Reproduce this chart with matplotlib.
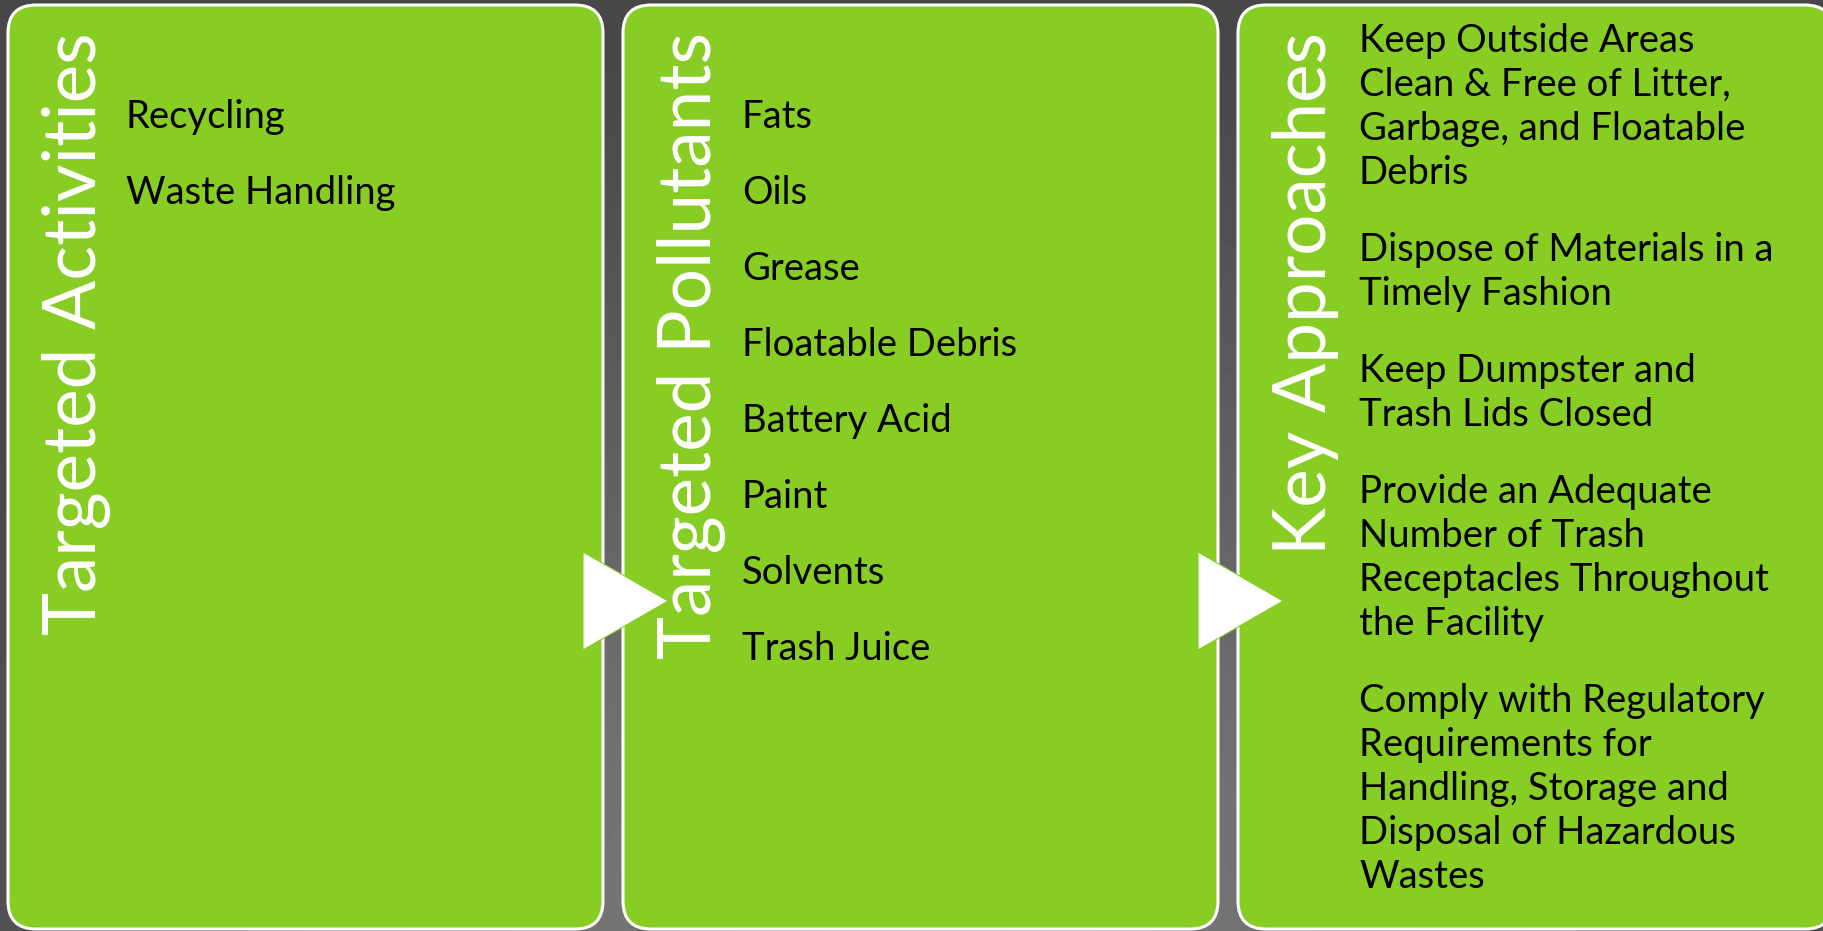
import numpy as np
import matplotlib.pyplot as plt
from matplotlib.patches import FancyBboxPatch, Polygon

plt.rcParams['font.family'] = ['Lato', 'DejaVu Sans']

# content
headers = ["Targeted Activities", "Targeted Pollutants", "Key Approaches"]
activities = ["Recycling", "Waste Handling"]
pollutants = ["Fats", "Oils", "Grease", "Floatable Debris",
              "Battery Acid", "Paint", "Solvents", "Trash Juice"]
approaches = [
    ["Keep Outside Areas", "Clean & Free of Litter,", "Garbage, and Floatable", "Debris"],
    ["Dispose of Materials in a", "Timely Fashion"],
    ["Keep Dumpster and", "Trash Lids Closed"],
    ["Provide an Adequate", "Number of Trash", "Receptacles Throughout", "the Facility"],
    ["Comply with Regulatory", "Requirements for", "Handling, Storage and",
     "Disposal of Hazardous", "Wastes"],
]

# layout (pixels)
W, H = 1824, 931
box_left = [8, 623, 1238]
box_w = 595
box_top, box_bot = 5, 929
radius = 28
green = "#87CD24"

fig = plt.figure(figsize=(W / 100, H / 100), dpi=100)
ax = fig.add_axes([0, 0, 1, 1])
ax.set_xlim(0, W)
ax.set_ylim(H, 0)
ax.axis("off")

# dark gray background, lighter toward the bottom middle
yy, xx = np.mgrid[0:H:4, 0:W:4]
d = np.sqrt(((xx - W / 2) / 1100) ** 2 + ((yy - H) / 900) ** 2)
shade = np.clip(0.52 - 0.24 * d, 0.28, 0.52)
ax.imshow(shade, cmap="gray", vmin=0, vmax=1, extent=[0, W, H, 0],
          aspect="auto", zorder=0)

for x0 in box_left:
    box = FancyBboxPatch((x0 + radius, box_top + radius),
                         box_w - 2 * radius, box_bot - box_top - 2 * radius,
                         boxstyle=f"round,pad={radius}",
                         facecolor=green, edgecolor="white", linewidth=2.2,
                         zorder=1)
    ax.add_patch(box)

# rotated headers
for x0, h in zip(box_left, headers):
    ax.text(x0 + 88, 32, h, rotation=90, rotation_mode="anchor",
            ha="right", va="baseline", color="white", fontsize=52.5,
            fontweight="normal", zorder=3)

# item lists
body = dict(color="black", fontsize=27.5, ha="left", va="baseline", zorder=3)
for i, s in enumerate(activities):
    ax.text(box_left[0] + 118, 128 + 76 * i, s, **body)
for i, s in enumerate(pollutants):
    ax.text(box_left[1] + 119, 128 + 76 * i, s, **body)

line_h, para_gap = 44, 33
y = 52
for para in approaches:
    for line in para:
        ax.text(box_left[2] + 121, y, line, **body)
        y += line_h
    y += para_gap

# arrows between boxes
for x0 in box_left[1:]:
    tri = Polygon([(x0 - 40, 552), (x0 + 45, 601), (x0 - 40, 650)],
                  closed=True, facecolor="white", edgecolor=green,
                  linewidth=0.8, zorder=4)
    ax.add_patch(tri)

fig.savefig("out.png", dpi=100)
